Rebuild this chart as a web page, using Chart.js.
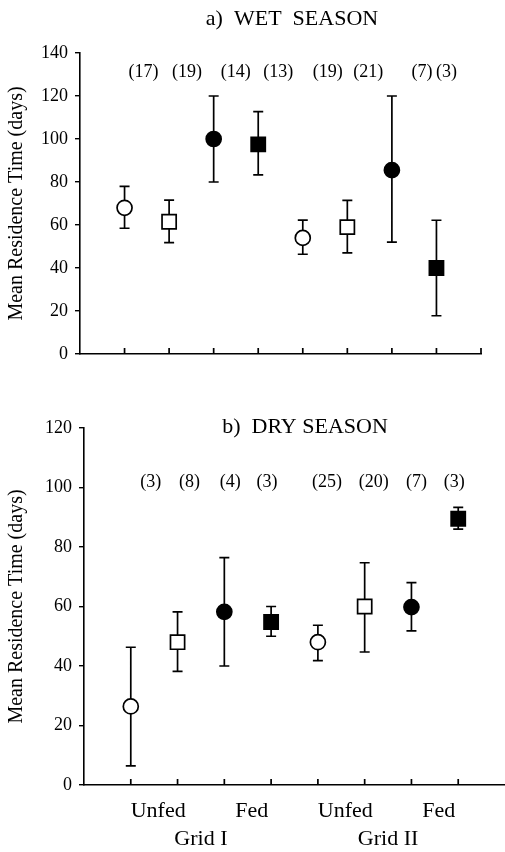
<!DOCTYPE html>
<html>
<head>
<meta charset="utf-8">
<script src="https://cdn.jsdelivr.net/npm/chart.js@4.4.1/dist/chart.umd.min.js"></script>
<style>
  html, body { margin: 0; padding: 0; background: #fff; }
  #wrap { position: relative; width: 505px; height: 852px; }
  canvas { position: absolute; left: 0; }
  #wet { top: 0; }
  #dry { top: 400px; }
</style>
</head>
<body>
<div id="wrap">
  <canvas id="wet" width="505" height="400"></canvas>
  <canvas id="dry" width="505" height="452"></canvas>
</div>
<script>
// slot 1..8 : Grid I unfed (M, F), Grid I fed (M, F), Grid II unfed (M, F), Grid II fed (M, F)
const slots = [1, 2, 3, 4, 5, 6, 7, 8];
const treatLabels = ["Unfed", "Fed", "Unfed", "Fed"];
const gridLabels = ["Grid I", "Grid II"];

const wetMean = [68, 61.5, 100, 97.5, 54, 59, 85.5, 40];
const wetLow  = [58.5, 51.8, 80, 83.3, 46.4, 47, 52, 17.8];
const wetHigh = [78, 71.6, 120, 112.7, 62.3, 71.5, 120, 62.2];
const wetN = ["(17)", "(19)", "(14)", "(13)", "(19)", "(21)", "(7)", "(3)"];

const dryMean = [26.4, 48, 58.2, 54.8, 48, 60, 59.8, 89.5];
const dryLow  = [6.4, 38.2, 40, 50, 41.8, 44.7, 51.8, 86];
const dryHigh = [46.3, 58.2, 76.4, 60, 53.7, 74.7, 68, 93.3];
const dryN = ["(3)", "(8)", "(4)", "(3)", "(25)", "(20)", "(7)", "(3)"];

const wetTicks = [0, 20, 40, 60, 80, 100, 120, 140];
const dryTicks = [0, 20, 40, 60, 80, 100, 120];

const SERIF = "'Liberation Serif', 'Times New Roman', serif";
Chart.defaults.font.family = SERIF;
Chart.defaults.color = "#000";

const shapes = ["circle", "rect", "circle", "rect", "circle", "rect", "circle", "rect"];
const fills  = ["#fff", "#fff", "#000", "#000", "#fff", "#fff", "#000", "#000"];

function decor(o) {
  return {
    id: "decor",
    beforeDatasetsDraw(chart) {
      const { ctx, chartArea } = chart;
      const x = chart.scales.x, y = chart.scales.y;
      ctx.save();
      ctx.strokeStyle = "#000";
      ctx.lineWidth = 1.7;
      ctx.beginPath();
      o.low.forEach((lo, i) => {
        const px = x.getPixelForValue(slots[i]);
        const y1 = y.getPixelForValue(lo);
        const y2 = y.getPixelForValue(o.high[i]);
        ctx.moveTo(px, y1); ctx.lineTo(px, y2);
        ctx.moveTo(px - 5, y1); ctx.lineTo(px + 5, y1);
        ctx.moveTo(px - 5, y2); ctx.lineTo(px + 5, y2);
      });
      // tick marks point up into the plot
      o.xTicks.forEach(t => {
        const px = x.getPixelForValue(t);
        ctx.moveTo(px, chartArea.bottom);
        ctx.lineTo(px, chartArea.bottom - 6);
      });
      ctx.stroke();
      ctx.restore();
    },
    afterDraw(chart) {
      const { ctx, chartArea } = chart;
      const x = chart.scales.x;
      ctx.save();
      ctx.fillStyle = "#000";
      ctx.textAlign = "center";
      ctx.textBaseline = "alphabetic";
      ctx.font = "22px " + SERIF;
      ctx.fillText(o.title, o.titleX, o.titleY);
      ctx.font = "18px " + SERIF;
      o.counts.forEach((c, i) => {
        ctx.fillText(c, x.getPixelForValue(slots[i]) + o.countShift[i], o.countY);
      });
      if (o.showGroups) {
        ctx.font = "22px " + SERIF;
        treatLabels.forEach((t, i) => {
          ctx.fillText(t, x.getPixelForValue(1.5 + 2 * i) + 4, chartArea.bottom + 32);
        });
        gridLabels.forEach((g, i) => {
          ctx.fillText(g, x.getPixelForValue(2.5 + 4 * i), chartArea.bottom + 60);
        });
      }
      ctx.restore();
    }
  };
}

function makeChart(id, mean, yMax, yTicks, pad, yWidth, xHeight, deco) {
  return new Chart(document.getElementById(id), {
    type: "scatter",
    data: {
      datasets: [{
        data: slots.map((s, i) => ({ x: s, y: mean[i] })),
        pointStyle: shapes,
        pointRadius: shapes.map(s => s === "rect" ? 10 : 7.5),
        pointBackgroundColor: fills,
        pointBorderColor: "#000",
        pointBorderWidth: 1.7,
        showLine: false
      }]
    },
    options: {
      responsive: false,
      animation: false,
      events: [],
      layout: { padding: pad, autoPadding: false },
      plugins: { legend: { display: false }, tooltip: { enabled: false } },
      scales: {
        x: {
          type: "linear",
          min: 0,
          max: 9,
          ticks: { display: false },
          grid: { display: true, drawOnChartArea: false, drawTicks: false },
          border: { color: "#000", width: 1.6 },
          afterFit: s => { s.height = xHeight; }
        },
        y: {
          min: 0,
          max: yMax,
          afterBuildTicks: s => { s.ticks = yTicks.map(v => ({ value: v })); },
          ticks: { font: { size: 18 }, padding: 7, color: "#000" },
          grid: { drawOnChartArea: false, tickLength: 5, color: "#000", lineWidth: 1.4 },
          border: { color: "#000", width: 1.6 },
          title: {
            display: true,
            text: "Mean Residence Time (days)",
            font: { size: 20 },
            padding: { top: 5, bottom: 0 }
          },
          afterFit: s => { s.width = yWidth; }
        }
      }
    },
    plugins: [deco]
  });
}

makeChart("wet", wetMean, 140, wetTicks,
  { top: 53, right: 24, left: 0, bottom: 0 }, 80, 46,
  decor({
    low: wetLow, high: wetHigh, counts: wetN,
    countShift: [19, 18, 22, 20, 25, 21, 30, 10], countY: 77,
    title: "a)  WET  SEASON", titleX: 292, titleY: 25,
    xTicks: [1, 2, 3, 4, 5, 6, 7, 8, 9], showGroups: false
  }));

makeChart("dry", dryMean, 120, dryTicks,
  { top: 28, right: 0, left: 0, bottom: 0 }, 84, 67,
  decor({
    low: dryLow, high: dryHigh, counts: dryN,
    countShift: [20, 12, 6, -4, 9, 9, 5, -4], countY: 87,
    title: "b)  DRY SEASON", titleX: 305, titleY: 33,
    xTicks: [1, 2, 3, 4, 5, 6, 7, 8], showGroups: true
  }));
</script>
</body>
</html>
